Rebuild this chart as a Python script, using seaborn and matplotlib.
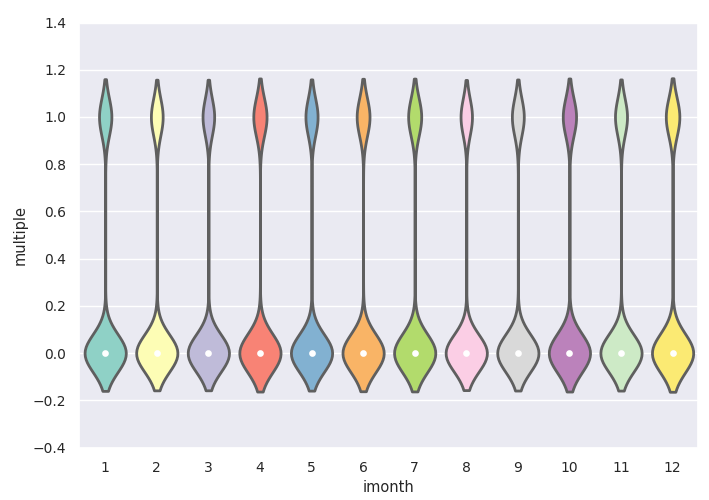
import numpy as np
import pandas as pd
import matplotlib
matplotlib.use("Agg")
import matplotlib.pyplot as plt
import seaborn as sns

months = [1, 2, 3, 4, 5, 6, 7, 8, 9, 10, 11, 12]
zeros_count = [3100, 3150, 3120, 3050, 3130, 3080, 3060, 3140, 3110, 3070, 3120, 3040]
ones_count = [930, 900, 880, 980, 920, 960, 970, 870, 900, 990, 910, 1000]

rows_m = []
rows_v = []
for m, z, o in zip(months, zeros_count, ones_count):
    rows_m += [m] * (z + o)
    rows_v += [0.0] * z + [1.0] * o
df = pd.DataFrame({"imonth": rows_m, "multiple": rows_v})

sns.set_theme(style="darkgrid", rc={"xtick.labelsize": 10, "ytick.labelsize": 10,
                                    "axes.labelsize": 10.5})
fig, ax = plt.subplots(figsize=(7.09, 5.0), dpi=100)
sns.violinplot(data=df, x="imonth", y="multiple", hue="imonth", palette="Set3",
               legend=False, linewidth=2, ax=ax, inner="box", saturation=0.95,
               inner_kws=dict(marker="o", markersize=3, markerfacecolor="white",
                              markeredgecolor="#eeeeee", color="white"))
ax.set_ylim(-0.4, 1.4)
ax.set_yticks(np.arange(-0.4, 1.41, 0.2))
fig.subplots_adjust(left=0.112, right=0.985, top=0.955, bottom=0.105)
fig.savefig("out.png", dpi=100)
